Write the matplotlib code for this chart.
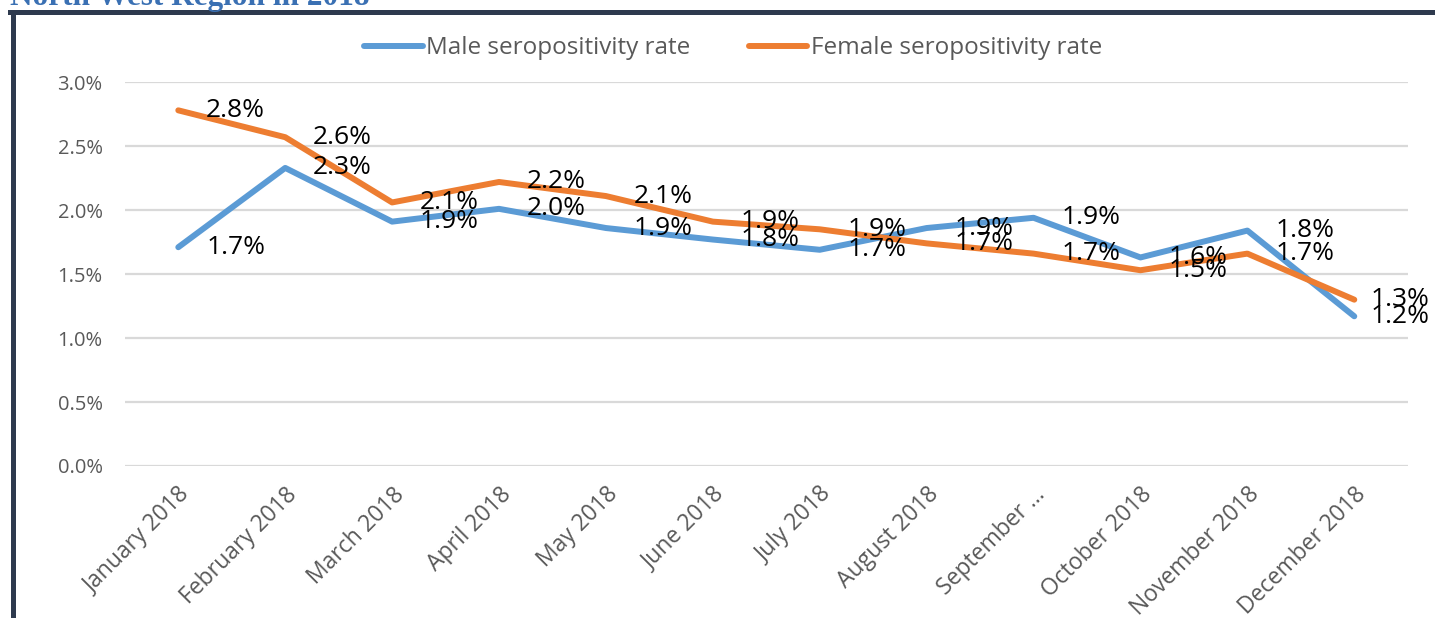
import matplotlib.pyplot as plt
from matplotlib.lines import Line2D

months = ['January 2018', 'February 2018', 'March 2018', 'April 2018', 'May 2018',
          'June 2018', 'July 2018', 'August 2018', 'September ...', 'October 2018',
          'November 2018', 'December 2018']
male = [1.71, 2.33, 1.91, 2.01, 1.86, 1.77, 1.69, 1.86, 1.94, 1.63, 1.84, 1.17]
female = [2.78, 2.57, 2.06, 2.22, 2.11, 1.91, 1.85, 1.74, 1.66, 1.53, 1.66, 1.30]

plt.rcParams['font.family'] = ['Open Sans', 'DejaVu Sans']

fig = plt.figure(figsize=(14.35, 6.18), dpi=100)
ax = fig.add_axes([0.087, 0.246, 0.894, 0.621])

x = range(len(months))
l1, = ax.plot(x, male, color='#5B9BD5', lw=4.3, solid_capstyle='round',
              label='Male seropositivity rate')
l2, = ax.plot(x, female, color='#ED7D31', lw=4.3, solid_capstyle='round',
              label='Female seropositivity rate')

for vals in (male, female):
    for i, v in zip(x, vals):
        dx = 12 if i == len(months) - 1 else 20  # last labels pulled in to fit
        ax.annotate(f'{v:.1f}%', (i, v), xytext=(dx, 0), textcoords='offset points',
                    va='center', ha='left', fontsize=19, color='black')

ax.set_xlim(-0.5, len(months) - 0.5)
ax.set_ylim(0, 3.0)
ax.set_yticks([0, 0.5, 1.0, 1.5, 2.0, 2.5, 3.0])
ax.set_yticklabels([f'{t:.1f}%' for t in ax.get_yticks()], fontsize=14.5, color='#595959')
ax.set_xticks(list(x))
ax.set_xticklabels(months, rotation=45, ha='right', rotation_mode='anchor',
                   fontsize=16.5, color='#595959')
ax.tick_params(axis='x', length=0, pad=12)
ax.tick_params(axis='y', length=0, pad=16)
ax.grid(axis='y', color='#d9d9d9', lw=1.6)
ax.set_axisbelow(True)
for s in ax.spines.values():
    s.set_visible(False)

fig.legend(handles=[l1, l2], loc='center', bbox_to_anchor=(0.511, 0.922), ncol=2,
           frameon=False, fontsize=17.5, handlelength=2.4, handletextpad=0.15,
           columnspacing=2.4, labelcolor='#595959')

# clipped heading and frame border
fig.text(0.007, 0.992, 'North West Region in 2018', fontsize=22.5, fontweight='bold',
         family='Liberation Serif', color='#3A70B3', va='baseline', ha='left')
fig.add_artist(Line2D([10 / 1435, 1], [1 - 11.5 / 618] * 2, color='#2E3A4E', lw=3.6,
                      transform=fig.transFigure))
fig.add_artist(Line2D([12.5 / 1435] * 2, [0, 1 - 11.5 / 618], color='#2E3A4E', lw=3.6,
                      transform=fig.transFigure))

fig.savefig('out.png', dpi=100)
